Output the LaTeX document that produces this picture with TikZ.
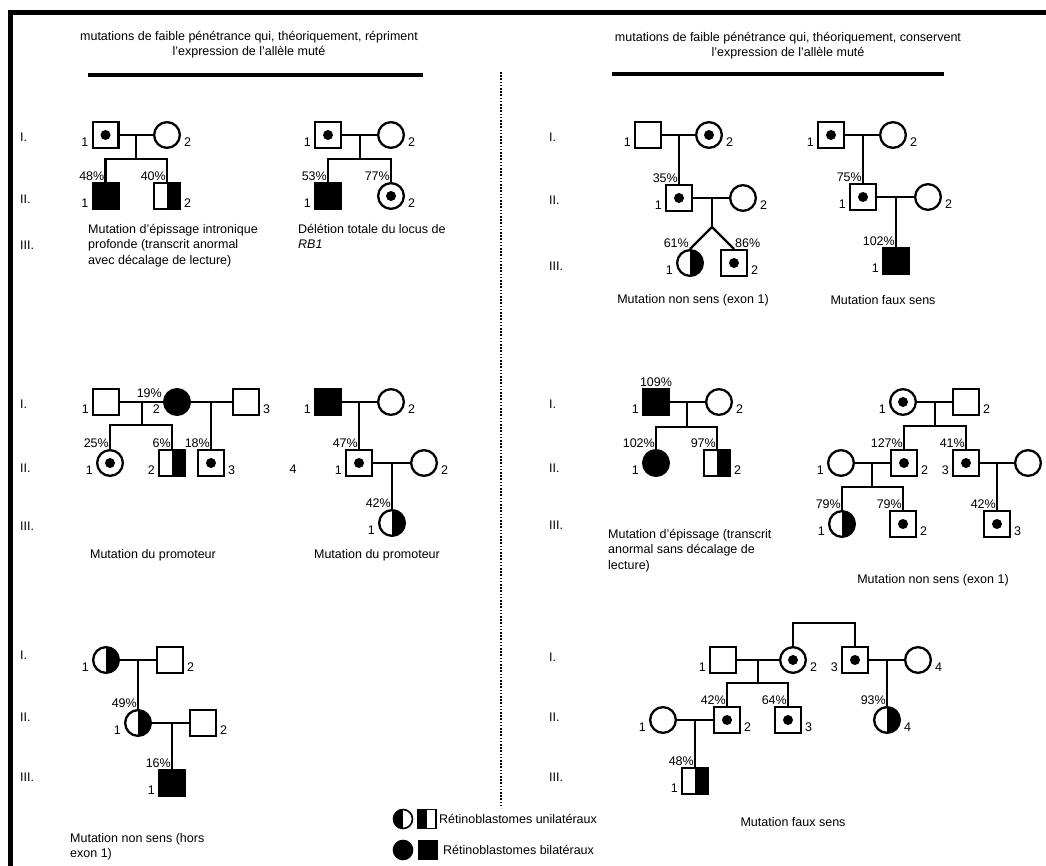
\documentclass[tikz,border=0pt]{standalone}
\usepackage{fontspec}
\setmainfont{Liberation Sans}

\begin{document}
\begin{tikzpicture}[x=1pt,y=-1pt,font=\fontsize{12.5}{15.5}\selectfont]
            \tikzset{
                sym/.style={draw,line width=2.3pt,inner sep=0pt,fill=white},
                male/.style={sym,rectangle,minimum size=25.7pt},
                female/.style={sym,circle,minimum size=25.7pt},
                carrier/.style={path picture={\fill [black] (path picture bounding box.center) circle (5pt);}},
                bilat/.style={fill=black},
                unilat/.style={path picture={\fill [black] (path picture bounding box.north) rectangle (path picture bounding box.south east);}},
                unilatl/.style={path picture={\fill [black] (path picture bounding box.south west) rectangle (path picture bounding box.north);}},
                nl/.style={label={[anchor=east,yshift=-7pt,inner sep=3pt]west:#1}},
                nr/.style={label={[anchor=west,yshift=-7pt,inner sep=3pt]east:#1}},
                pct/.style={label={[anchor=south east,inner sep=1pt]north:#1}},
                con/.style={line width=2.2pt},
                gen/.style={anchor=west,inner sep=0pt},
                caption/.style={align=left,anchor=north west,inner sep=0pt},
                legsym/.style={draw,line width=1.6pt,inner sep=0pt,fill=white},}
            \useasboundingbox (0,0) rectangle (1046,866);
            % frame, headers and divider
            \draw [line width=5pt] (10,866) -- (10,12.5) -- (1046,12.5);
            \node [align=center,anchor=north,inner sep=0pt] (hl) at (249,31) {mutations de faible pénétrance qui, théoriquement, répriment\\l’expression de l’allèle muté};
            \node [align=center,anchor=north,inner sep=0pt] (hr) at (788,32) {mutations de faible pénétrance qui, théoriquement, conservent\\l’expression de l’allèle muté};
            \draw [line width=3.5pt] (88,75) -- (423,75);
            \draw [line width=3.5pt] (612,74) -- (944,74);
            \draw [line width=1.6pt,dash pattern=on 1.6pt off 1.6pt] (501,72) -- (501,808);
            % generations
            \foreach \g/\y in {I./137,II./199,III./245,I./404,II./468,III./526,I./655,II./717,III./777}
                \node [gen] (gl\y) at (20,\y) {\g};
            \foreach \g/\y in {I./137,II./200,III./266,I./404,II./468,III./525,I./657,II./717,III./777}
                \node [gen] (gr\y) at (549,\y) {\g};
            % epissage intronique
            \node [male,carrier,nl=1] (a1) at (105.5,135) {};
            \node [female,nr=2] (a2) at (167,135) {};
            \node [male,bilat,nl=1,pct=48\%] (a3) at (105.5,196) {};
            \node [male,unilat,nr=2,pct=40\%] (a4) at (167,196) {};
            \coordinate (am) at (136,135);
            \coordinate (as) at (136,159);
            \draw [con] (a1) -- (a2);
            \draw [con] (am) -- (as);
            \draw [con] (a3.north) |- (as) -| (a4.north);
            \node [caption] (capa) at (88,224) {Mutation d’épissage intronique\\profonde (transcrit anormal\\avec décalage de lecture)};
            % deletion
            \node [male,carrier,nl=1] (b1) at (328,135) {};
            \node [female,nr=2] (b2) at (391,135) {};
            \node [male,bilat,nl=1,pct=53\%] (b3) at (328,196) {};
            \node [female,carrier,nr=2,pct=77\%] (b4) at (391,196) {};
            \coordinate (bm) at (360,135);
            \coordinate (bs) at (360,159);
            \draw [con] (b1) -- (b2);
            \draw [con] (bm) -- (bs);
            \draw [con] (b3.north) |- (bs) -| (b4.north);
            \node [caption] (capb) at (298,224) {Délétion totale du locus de\\\textit{RB1}};
            % non sens exon 1 (twins)
            \node [male,nl=1] (c1) at (648,135) {};
            \node [female,carrier,nr=2] (c2) at (709,135) {};
            \node [male,carrier,nl=1,pct=35\%] (c3) at (679,198) {};
            \node [female,nr=2] (c4) at (743,198) {};
            \node [female,unilat,nl=1,pct=61\%] (c5) at (690,263) {};
            \node [male,carrier,nr=2,label={[anchor=south west,inner sep=1pt]north:86\%}] (c6) at (734,263) {};
            \coordinate (cm) at (679,135);
            \coordinate (cn) at (712,198);
            \coordinate (ct) at (712,227);
            \draw [con] (c1) -- (c2);
            \draw [con] (cm) -- (c3);
            \draw [con] (c3) -- (c4);
            \draw [con] (cn) -- (ct);
            \draw [con] (c5.north) -- (ct) -- (c6.north);
            \node (capc) at (693,300) {Mutation non sens (exon 1)};
            % faux sens
            \node [male,carrier,nl=1] (d1) at (831,135) {};
            \node [female,nr=2] (d2) at (893,135) {};
            \node [male,carrier,nl=1,pct=75\%] (d3) at (863,197) {};
            \node [female,nr=2] (d4) at (928,197) {};
            \node [male,bilat,nl=1,pct=102\%] (d5) at (896,261) {};
            \coordinate (dm) at (863,135);
            \coordinate (dn) at (896,197);
            \draw [con] (d1) -- (d2);
            \draw [con] (dm) -- (d3);
            \draw [con] (d3) -- (d4);
            \draw [con] (dn) -- (d5);
            \node (capd) at (883,300) {Mutation faux sens};
            % promoteur 1
            \node [male,nl=1] (e1) at (106,402) {};
            \node [female,bilat,nl=2,label={[anchor=south east,inner sep=1pt,yshift=3pt]west:19\%}] (e2) at (177,402) {};
            \node [male,nr=3] (e3) at (246,402) {};
            \node [female,carrier,nl=1,pct=25\%] (e4) at (110,463) {};
            \node [male,unilat,nl=2,pct=6\%] (e5) at (172,463) {};
            \node [male,carrier,nr=3,pct=18\%] (e6) at (211,463) {};
            \coordinate (em) at (142,402);
            \coordinate (es) at (142,425);
            \coordinate (en) at (211,402);
            \draw [con] (e1) -- (e2) -- (e3);
            \draw [con] (em) -- (es);
            \draw [con] (e4.north) |- (es) -| (e5.north);
            \draw [con] (en) -- (e6);
            \node (cape) at (153,555) {Mutation du promoteur};
            % promoteur 2
            \node [male,bilat,nl=1] (f1) at (328,402) {};
            \node [female,nr=2] (f2) at (391,402) {};
            \node [male,carrier,nl=1,pct=47\%] (f3) at (359,463) {};
            \node [female,nr=2] (f4) at (424,463) {};
            \node [female,unilat,nl=1,pct=42\%] (f5) at (392,523) {};
            \node (f0) at (293,469) {4};
            \coordinate (fm) at (359,402);
            \coordinate (fn) at (392,463);
            \draw [con] (f1) -- (f2);
            \draw [con] (fm) -- (f3);
            \draw [con] (f3) -- (f4);
            \draw [con] (fn) -- (f5);
            \node (capf) at (377,555) {Mutation du promoteur};
            % epissage sans decalage
            \node [male,bilat,nl=1,label={[anchor=south,inner sep=1pt]north:109\%}] (g1) at (656,402) {};
            \node [female,nr=2] (g2) at (719,402) {};
            \node [female,bilat,nl=1,pct=102\%] (g3) at (656,463) {};
            \node [male,unilat,nr=2,pct=97\%] (g4) at (717,463) {};
            \coordinate (gm) at (687,402);
            \coordinate (gs) at (687,427);
            \draw [con] (g1) -- (g2);
            \draw [con] (gm) -- (gs);
            \draw [con] (g3.north) |- (gs) -| (g4.north);
            \node [caption] (capg) at (608,529) {Mutation d’épissage (transcrit\\anormal sans décalage de\\lecture)};
            % non sens exon 1 (three branches)
            \node [female,carrier,nl=1] (h1) at (903,402) {};
            \node [male,nr=2] (h2) at (966,402) {};
            \node [female,nl=1] (h3) at (841,463) {};
            \node [male,carrier,nr=2,pct=127\%] (h4) at (904,463) {};
            \node [male,carrier,nl=3,pct=41\%] (h5) at (966,463) {};
            \node [female] (h6) at (1028,463) {};
            \node [female,unilat,nl=1,pct=79\%] (h7) at (842,524) {};
            \node [male,carrier,nr=2,pct=79\%] (h8) at (903,524) {};
            \node [male,carrier,nr=3,pct=42\%] (h9) at (997,524) {};
            \coordinate (hm) at (935,402);
            \coordinate (hs) at (935,426);
            \coordinate (hn) at (872,463);
            \coordinate (ht) at (872,487);
            \coordinate (ho) at (997,463);
            \draw [con] (h1) -- (h2);
            \draw [con] (hm) -- (hs);
            \draw [con] (h4.north) |- (hs) -| (h5.north);
            \draw [con] (h3) -- (h4);
            \draw [con] (hn) -- (ht);
            \draw [con] (h7.north) |- (ht) -| (h8.north);
            \draw [con] (h5) -- (h6);
            \draw [con] (ho) -- (h9);
            \node (caph) at (933,580) {Mutation non sens (exon 1)};
            % non sens hors exon 1
            \node [female,unilat,nl=1] (k1) at (106,660) {};
            \node [male,nr=2] (k2) at (170,660) {};
            \node [female,unilat,nl=1,pct=49\%] (k3) at (138,723) {};
            \node [male,nr=2] (k4) at (203,723) {};
            \node [male,bilat,nl=1,pct=16\%] (k5) at (172,783) {};
            \coordinate (km) at (138,660);
            \coordinate (kn) at (172,723);
            \draw [con] (k1) -- (k2);
            \draw [con] (km) -- (k3);
            \draw [con] (k3) -- (k4);
            \draw [con] (kn) -- (k5);
            \node [caption] (capk) at (70,833) {Mutation non sens (hors\\exon 1)};
            % faux sens (bottom)
            \node [male,nl=1] (m1) at (723,660) {};
            \node [female,carrier,nr=2] (m2) at (793,660) {};
            \node [male,carrier,nl=3] (m3) at (855,660) {};
            \node [female,nr=4] (m4) at (918,660) {};
            \node [female,nl=1] (m5) at (663,720) {};
            \node [male,carrier,nr=2,pct=42\%] (m6) at (727,720) {};
            \node [male,carrier,nr=3,pct=64\%] (m7) at (788,720) {};
            \node [female,unilat,nr=4,pct=93\%] (m8) at (887,720) {};
            \node [male,unilat,nl=1,pct=48\%] (m9) at (695,781) {};
            \coordinate (mb) at (824,623);
            \coordinate (mm) at (758,660);
            \coordinate (ms) at (758,683);
            \coordinate (mn) at (887,660);
            \coordinate (mo) at (695,720);
            \draw [con] (m2.north) |- (mb) -| (m3.north);
            \draw [con] (m1) -- (m2);
            \draw [con] (mm) -- (ms);
            \draw [con] (m6.north) |- (ms) -| (m7.north);
            \draw [con] (m3) -- (m4);
            \draw [con] (mn) -- (m8);
            \draw [con] (m5) -- (m6);
            \draw [con] (mo) -- (m9);
            \node (capm) at (793,822) {Mutation faux sens};
            % legend
            \node [legsym,circle,minimum size=19pt,unilatl] (l1) at (403,819) {};
            \node [legsym,minimum width=18pt,minimum height=19pt,unilatl] (l2) at (427,819) {};
            \node [gen] (l5) at (439,819) {Rétinoblastomes unilatéraux};
            \node [legsym,circle,fill=black,minimum size=19pt] (l3) at (403,850) {};
            \node [legsym,fill=black,minimum width=18pt,minimum height=19pt] (l4) at (428,850) {};
            \node [gen] (l6) at (443,850) {Rétinoblastomes bilatéraux};
        \end{tikzpicture}
\end{document}
